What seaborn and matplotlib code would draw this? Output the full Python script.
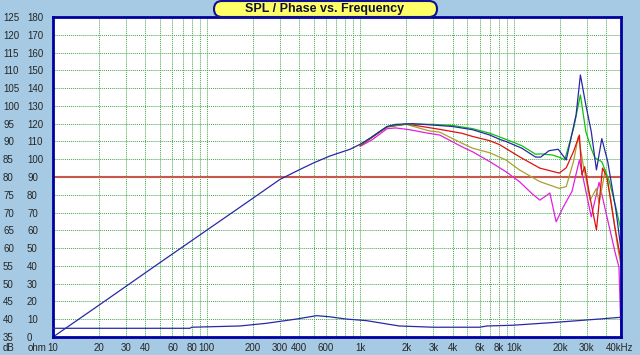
import numpy as np
import pandas as pd
import seaborn as sns
import matplotlib.pyplot as plt
from matplotlib.patches import FancyBboxPatch
from matplotlib.transforms import IdentityTransform
from matplotlib.ticker import LogLocator, NullFormatter

# SPL curves (Hz, dB)
blue_f = [10, 20, 50, 100, 200, 300, 400, 500, 635, 860, 1000, 1160, 1340, 1500, 1700, 2200, 3000, 4000, 5400, 7000,
          8100, 8900, 11300, 13900, 15000, 17000, 19500, 22000, 25500, 27200, 29500, 32000, 34600, 37500, 41000, 46500, 50000]
blue_db = [35.0, 44.0, 56.0, 65.0, 74.0, 79.3, 82.0, 84.0, 85.9, 87.8, 89.2, 90.9, 92.8, 94.2, 94.8, 95.0, 94.6, 94.2, 93.3, 91.8,
           90.6, 90.0, 88.1, 85.6, 85.6, 87.4, 87.8, 84.8, 97.5, 108.7, 100.3, 92.8, 82.0, 90.8, 84.3, 70.2, 59.5]

green_f = [1000, 1500, 2000, 3000, 4000, 5400, 7000, 8900, 11300, 13900, 15000, 17800, 20000, 21500, 24600, 27200,
           29500, 32000, 33800, 37500, 42000, 46000, 50000]
green_db = [89.0, 94.2, 94.9, 94.8, 94.5, 93.6, 92.3, 90.6, 88.8, 86.4, 86.5, 86.2, 85.5, 84.8, 93.8, 103.1,
            92.8, 88.0, 85.4, 84.3, 78.7, 72.0, 65.0]

red_f = [1000, 1500, 2000, 2800, 3300, 4600, 5400, 7000, 8100, 10900, 14800, 19800, 22000, 24500, 26800, 27800,
         29000, 31500, 34600, 37900, 40500, 45500, 50000]
red_db = [88.8, 94.1, 94.9, 93.9, 93.4, 92.3, 91.4, 90.2, 89.1, 85.7, 82.5, 81.1, 82.6, 87.1, 91.8, 80.6,
          82.9, 74.0, 65.1, 82.5, 80.1, 66.1, 56.6]

olive_f = [1000, 1500, 2000, 2800, 3300, 4600, 5400, 7000, 8900, 10900, 14800, 19800, 22000, 24500, 26400, 28500,
           31500, 34600, 36000, 39500, 43000, 47500, 50000]
olive_db = [88.8, 94.1, 94.8, 93.0, 92.6, 89.5, 88.1, 86.8, 84.8, 82.0, 78.7, 76.8, 77.3, 84.3, 91.4, 82.9,
            73.5, 76.8, 72.6, 82.0, 73.5, 60.4, 55.0]

mag_f = [1000, 1200, 1500, 1700, 2100, 2700, 3300, 3800, 4600, 5400, 7000, 8900, 10900, 13100, 14800, 16000,
         17200, 18900, 21000, 24000, 26800, 28500, 32000, 36000, 40500, 46000, 48500, 50000]
mag_db = [88.6, 90.5, 93.6, 93.8, 93.3, 92.4, 91.8, 90.4, 88.5, 87.1, 84.3, 81.5, 78.7, 75.4, 73.5, 74.5,
          75.5, 67.4, 71.5, 76.0, 84.8, 79.2, 68.8, 78.5, 68.8, 58.4, 54.7, 35.5]

# impedance (ohm scale on the second column)
imp_f = [10, 78, 80, 165, 245, 385, 520, 630, 810, 1100, 1500, 1800, 2400, 3000, 6000, 6700, 9800, 17800, 36000, 50000]
imp_ohm = [4.9, 4.9, 5.5, 6.2, 7.7, 10.1, 12.0, 11.4, 10.1, 9.2, 7.3, 6.2, 5.8, 5.5, 5.5, 6.2, 6.6, 8.1, 10.1, 11.1]

ref_level = 80

db_ticks = list(range(35, 126, 5))
ohm_ticks = list(range(0, 181, 10))
xtick_pos = [10, 20, 30, 40, 60, 80, 100, 200, 300, 400, 600, 1000, 2000, 3000, 4000, 6000, 8000, 10000, 20000, 30000, 40000]
xtick_labels = ['10', '20', '30', '40', '60', '80', '100', '200', '300', '400', '600', '1k', '2k', '3k', '4k',
                '6k', '8k', '10k', '20k', '30k', '40kHz']

colors = {'magenta': '#E020E0', 'olive': '#A8A030', 'red': '#E01010', 'green': '#10C010', 'blue': '#2828A8'}
curves = [('magenta', mag_f, mag_db), ('olive', olive_f, olive_db), ('red', red_f, red_db),
          ('green', green_f, green_db), ('blue', blue_f, blue_db)]

sns.set_style('white')
plt.rcParams['font.family'] = ['Liberation Sans', 'DejaVu Sans']

bg = '#A6CAE3'
fig = plt.figure(figsize=(6.4, 3.55), dpi=100, facecolor=bg)
ax = fig.add_axes([53 / 640, 18 / 355, 568 / 640, 320 / 355])
ax.set_facecolor('white')
ax.set_xscale('log')

df = pd.concat([pd.DataFrame({'freq': f, 'spl': d, 'curve': n}) for n, f, d in curves], ignore_index=True)
sns.lineplot(data=df, x='freq', y='spl', hue='curve', hue_order=[c[0] for c in curves],
             palette=colors, estimator=None, legend=False, lw=0.9, ax=ax)
ax.axhline(ref_level, color='#C8584C', lw=1.5, zorder=1.5)

ax.set_xlim(10, 50000)
ax.set_ylim(35, 125)
ax.set_xlabel('')
ax.set_ylabel('')

grid_kw = dict(color='#45A845', ls=(0, (1, 1)), lw=0.7)
ax.set_xticks(xtick_pos)
ax.set_xticklabels(xtick_labels)
ax.xaxis.set_minor_locator(LogLocator(base=10, subs=range(1, 10), numticks=20))
ax.xaxis.set_minor_formatter(NullFormatter())
ax.set_yticks(db_ticks)
ax.set_yticklabels([str(v) for v in db_ticks])
ax.grid(True, which='major', **grid_kw)
ax.grid(True, which='minor', axis='x', **grid_kw)
ax.set_axisbelow(True)
ax.tick_params(axis='x', which='both', length=0, pad=4.5, labelsize=7)
ax.tick_params(axis='y', which='both', length=0, pad=36, labelsize=7)
for t in ax.get_yticklabels():
    t.set_ha('left')
ax.get_xticklabels()[-1].set_ha('left')
for s in ax.spines.values():
    s.set_color('#0000A0')
    s.set_linewidth(2)

# impedance on its own scale, labels in the second column
ax2 = ax.twinx()
sns.lineplot(x=imp_f, y=imp_ohm, color='#2828A8', lw=0.9, ax=ax2)
ax2.set_ylim(0, 180)
ax2.set_yticks(ohm_ticks)
ax2.set_yticklabels([str(v) for v in ohm_ticks])
ax2.yaxis.tick_left()
ax2.tick_params(axis='y', length=0, pad=18.7, labelsize=7)
for t in ax2.get_yticklabels():
    t.set_ha('left')
for s in ax2.spines.values():
    s.set_visible(False)
ax2.set_ylabel('')

fig.text(3 / 640, 7 / 355, 'dB', fontsize=7, va='center', ha='left')
fig.text(28 / 640, 7 / 355, 'ohm', fontsize=7, va='center', ha='left')

box = FancyBboxPatch((214, 338), 223, 16, boxstyle='round,pad=0,rounding_size=8',
                     fc='#FFFF66', ec='#101090', lw=1.5, transform=IdentityTransform(), zorder=5)
fig.add_artist(box)
fig.text(325 / 640, 346 / 355, 'SPL / Phase vs. Frequency', fontsize=9, fontweight='bold',
         ha='center', va='center', color='#101030', zorder=6)

fig.savefig('out.png', dpi=100, facecolor=bg)
